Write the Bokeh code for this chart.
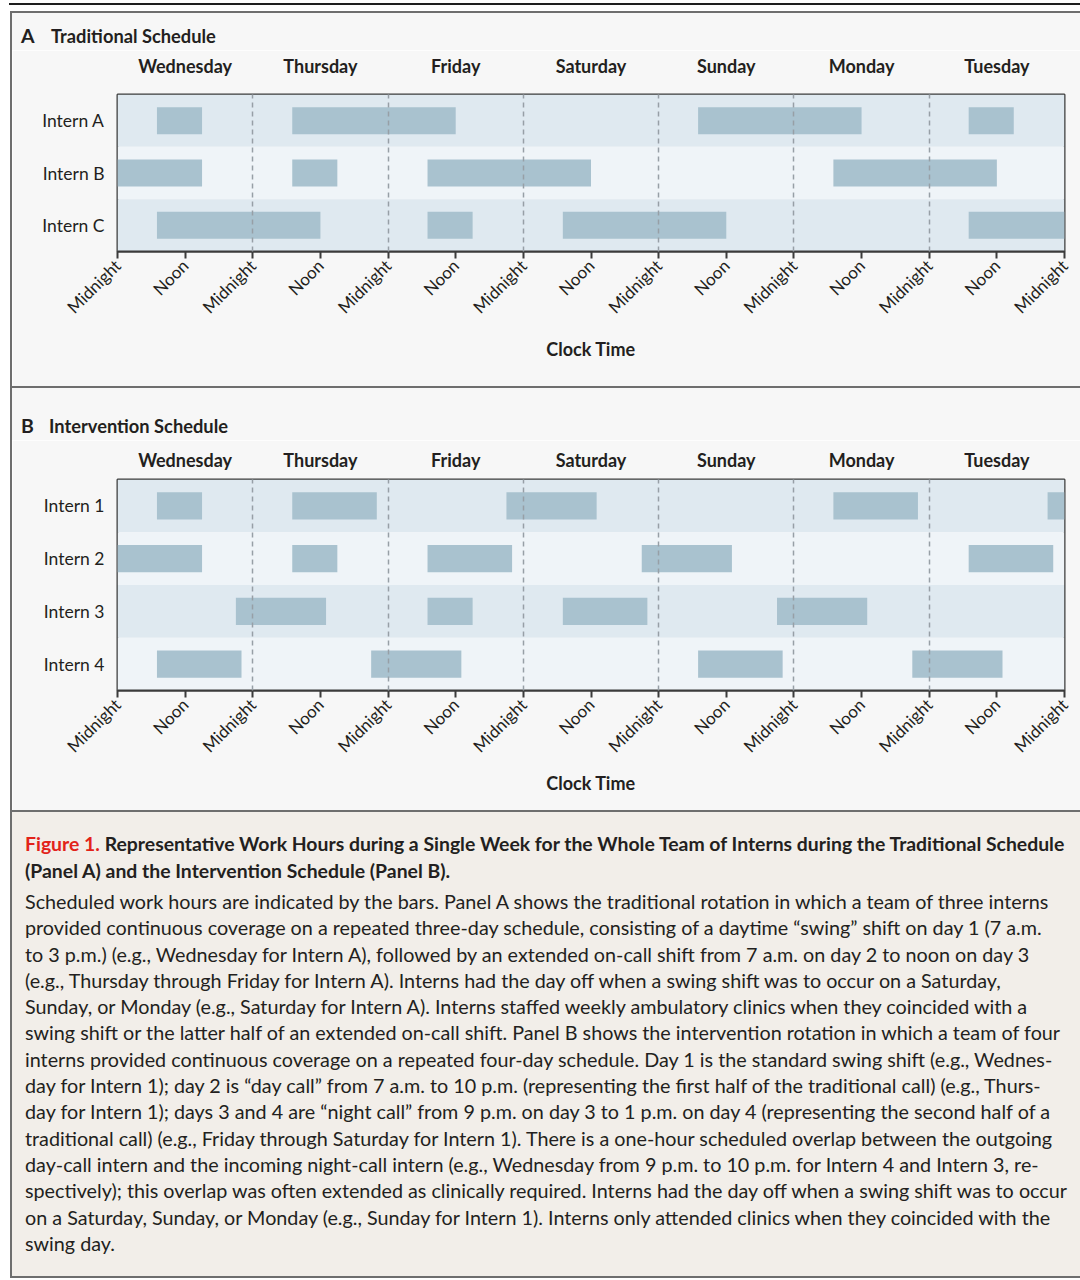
import math
from bokeh.plotting import figure
from bokeh.models import ColumnDataSource, Range1d, FixedTicker, LinearAxis, Div, Spacer
from bokeh.layouts import column, row
from bokeh.embed import file_html
from bokeh.resources import INLINE

# ---------------- data ----------------
days = ["Wednesday", "Thursday", "Friday", "Saturday", "Sunday", "Monday", "Tuesday"]
day_centers = [12, 36, 60, 84, 108, 132, 156]          # hours since Wednesday midnight
clock_ticks = [0, 12, 24, 36, 48, 60, 72, 84, 96, 108, 120, 132, 144, 156, 168]
clock_labels = ["Midnight", "Noon"] * 7 + ["Midnight"]
midnight_lines = [24, 48, 72, 96, 120, 144]

interns_a = ["Intern A", "Intern B", "Intern C"]
a_who = ["Intern A"] * 4 + ["Intern B"] * 4 + ["Intern C"] * 4
a_start = [7, 31, 103, 151, 0, 31, 55, 127, 7, 55, 79, 151]
a_end = [15, 60, 132, 159, 15, 39, 84, 156, 36, 63, 108, 168]

interns_b = ["Intern 1", "Intern 2", "Intern 3", "Intern 4"]
b_who = ["Intern 1"] * 5 + ["Intern 2"] * 5 + ["Intern 3"] * 4 + ["Intern 4"] * 4
b_start = [7, 31, 69, 127, 165, 0, 31, 55, 93, 151, 21, 55, 79, 117, 7, 45, 103, 141]
b_end = [15, 46, 85, 142, 168, 15, 39, 70, 109, 166, 37, 63, 94, 133, 22, 61, 118, 157]

# ---------------- style ----------------
FONT = "Lato"
INK = "#231f20"
PANEL_BG = "#f7f7f7"
BOX = "#6e6e6e"
BAND_DARK = "#dfe9f0"
BAND_LIGHT = "#eff4f8"
BAR = "#a9c2cf"
DASH = "#979fa6"
FRAME = "#3b3b3b"
FIG_W = 1068
FRAME_L = 105
FRAME_W = 947
X_MAX = 168.0


def make_panel(interns, who, start, end, fig_h, b_top, frame_h,
               day_standoff, label_standoff):
    n = len(interns)
    b_bottom = fig_h - b_top - frame_h
    p = figure(width=FIG_W, height=fig_h, x_range=Range1d(0, X_MAX),
               y_range=Range1d(-0.5, n - 0.5), output_backend="svg",
               toolbar_location=None, min_border_left=FRAME_L,
               min_border_right=FIG_W - FRAME_L - FRAME_W,
               min_border_top=b_top, min_border_bottom=b_bottom,
               background_fill_color=PANEL_BG, border_fill_color=PANEL_BG)
    p.outline_line_color = FRAME
    p.outline_line_width = 2

    ypos = {name: n - 1 - i for i, name in enumerate(interns)}
    band_src = ColumnDataSource(dict(
        y=[ypos[k] for k in interns],
        c=[BAND_DARK if i % 2 == 0 else BAND_LIGHT for i in range(n)]))
    p.hbar(y="y", left=0, right=X_MAX, height=1.0, fill_color="c",
           line_color=None, source=band_src)

    src = ColumnDataSource(dict(y=[ypos[w] for w in who], left=start, right=end))
    p.hbar(y="y", left="left", right="right", height=0.515, source=src,
           fill_color=BAR, line_color=None)

    # bottom clock axis
    xa = p.xaxis[0]
    xa.ticker = FixedTicker(ticks=clock_ticks)
    xa.major_label_overrides = {t: l for t, l in zip(clock_ticks, clock_labels)}
    xa.major_label_orientation = math.pi / 4
    xa.major_label_text_font = FONT
    xa.major_label_text_font_size = "17px"
    xa.major_label_text_color = INK
    xa.major_label_standoff = 4
    xa.major_tick_in = 0
    xa.major_tick_out = 7
    xa.major_tick_line_color = FRAME
    xa.major_tick_line_width = 2
    xa.minor_tick_line_color = None
    xa.axis_line_color = FRAME
    xa.axis_line_width = 2
    xa.axis_label = "Clock Time"
    xa.axis_label_text_font = FONT
    xa.axis_label_text_font_style = "bold"
    xa.axis_label_text_font_size = "18px"
    xa.axis_label_text_color = INK
    xa.axis_label_standoff = label_standoff

    # left intern axis
    ya = p.yaxis[0]
    ya.ticker = FixedTicker(ticks=[ypos[k] for k in interns])
    ya.major_label_overrides = {ypos[k]: k for k in interns}
    ya.major_label_text_font = FONT
    ya.major_label_text_font_size = "17.5px"
    ya.major_label_text_color = INK
    ya.major_label_standoff = 13
    ya.major_tick_in = 0
    ya.major_tick_out = 0
    ya.minor_tick_line_color = None
    ya.axis_line_color = None

    # day-name axis above
    top = LinearAxis(ticker=FixedTicker(ticks=day_centers),
                     major_label_overrides={c: d for c, d in zip(day_centers, days)})
    top.major_label_text_font = FONT
    top.major_label_text_font_style = "bold"
    top.major_label_text_font_size = "18px"
    top.major_label_text_color = INK
    top.major_label_standoff = day_standoff
    top.major_tick_in = 0
    top.major_tick_out = 0
    top.minor_tick_line_color = None
    top.axis_line_color = None
    p.add_layout(top, "above")

    p.xgrid.ticker = FixedTicker(ticks=midnight_lines)
    p.xgrid.grid_line_color = DASH
    p.xgrid.grid_line_dash = "5 4"
    p.xgrid.grid_line_width = 1.5
    p.xgrid.level = "annotation"
    p.ygrid.grid_line_color = None
    return p


def panel_title(letter, title, height, top, title_left):
    html = (
        f'<div style="position:relative; width:{FIG_W}px; height:{height}px; '
        f'font-family:{FONT}; font-weight:bold; color:{INK}; line-height:20px;">'
        f'<span style="position:absolute; left:9px; top:{top}px; font-size:19.5px;">{letter}</span>'
        f'<span style="position:absolute; left:{title_left}px; top:{top}px; font-size:18.3px;">{title}</span>'
        '</div>'
    )
    return Div(text=html, width=FIG_W, height=height, margin=0,
               styles={"background-color": PANEL_BG})


pA = make_panel(interns_a, a_who, a_start, a_end,
                fig_h=336, b_top=44, frame_h=157, day_standoff=18,
                label_standoff=10)
pB = make_panel(interns_b, b_who, b_start, b_end,
                fig_h=370, b_top=39, frame_h=211, day_standoff=9,
                label_standoff=5)

title_1 = "Representative Work Hours during a Single Week for the Whole Team of Interns during the Traditional Schedule"
title_2 = "(Panel A) and the Intervention Schedule (Panel B)."
body_lines = [
    "Scheduled work hours are indicated by the bars. Panel A shows the traditional rotation in which a team of three interns",
    "provided continuous coverage on a repeated three-day schedule, consisting of a daytime \u201cswing\u201d shift on day 1 (7 a.m.",
    "to 3 p.m.) (e.g., Wednesday for Intern A), followed by an extended on-call shift from 7 a.m. on day 2 to noon on day 3",
    "(e.g., Thursday through Friday for Intern A). Interns had the day off when a swing shift was to occur on a Saturday,",
    "Sunday, or Monday (e.g., Saturday for Intern A). Interns staffed weekly ambulatory clinics when they coincided with a",
    "swing shift or the latter half of an extended on-call shift. Panel B shows the intervention rotation in which a team of four",
    "interns provided continuous coverage on a repeated four-day schedule. Day 1 is the standard swing shift (e.g., Wednes-",
    "day for Intern 1); day 2 is \u201cday call\u201d from 7 a.m. to 10 p.m. (representing the first half of the traditional call) (e.g., Thurs-",
    "day for Intern 1); days 3 and 4 are \u201cnight call\u201d from 9 p.m. on day 3 to 1 p.m. on day 4 (representing the second half of a",
    "traditional call) (e.g., Friday through Saturday for Intern 1). There is a one-hour scheduled overlap between the outgoing",
    "day-call intern and the incoming night-call intern (e.g., Wednesday from 9 p.m. to 10 p.m. for Intern 4 and Intern 3, re-",
    "spectively); this overlap was often extended as clinically required. Interns had the day off when a swing shift was to occur",
    "on a Saturday, Sunday, or Monday (e.g., Sunday for Intern 1). Interns only attended clinics when they coincided with the",
    "swing day.",
]

caption_html = (
    f'<div style="font-family:{FONT}; color:{INK}; padding:18px 0 0 13px; white-space:nowrap;">'
    f'<div style="font-weight:bold; font-size:19.4px; line-height:27px;">'
    f'<span style="color:#e2231a;">Figure 1.</span> {title_1}<br>{title_2}</div>'
    f'<div style="font-size:19.75px; line-height:26.3px; margin-top:5px;">'
    + "<br>".join(body_lines) + '</div></div>'
)
caption = Div(text=caption_html, width=FIG_W, height=464, margin=0,
              styles={"background-color": "#f2eee9"})


def bar_div(w, h, color):
    return Div(text="", width=w, height=h, margin=0,
               styles={"background-color": color})


inner = column(
    bar_div(FIG_W, 2, BOX),
    panel_title("A", "Traditional Schedule", 37, 13, 39),
    pA,
    bar_div(FIG_W, 2, BOX),
    panel_title("B", "Intervention Schedule", 52, 28, 37),
    pB,
    bar_div(FIG_W, 2, BOX),
    caption,
    bar_div(FIG_W, 2, BOX),
)
total_h = 2 + 37 + 336 + 2 + 52 + 370 + 2 + 464 + 2
left_border = bar_div(2, total_h, BOX)
page = column(
    Spacer(height=3, margin=0),
    row(Spacer(width=9, margin=0), bar_div(1071, 2, "#1e1e1e")),
    Spacer(height=6, margin=0),
    row(Spacer(width=10, margin=0), left_border, inner),
)

with open("out.html", "w", encoding="utf-8") as f:
    f.write(file_html(page, INLINE))
